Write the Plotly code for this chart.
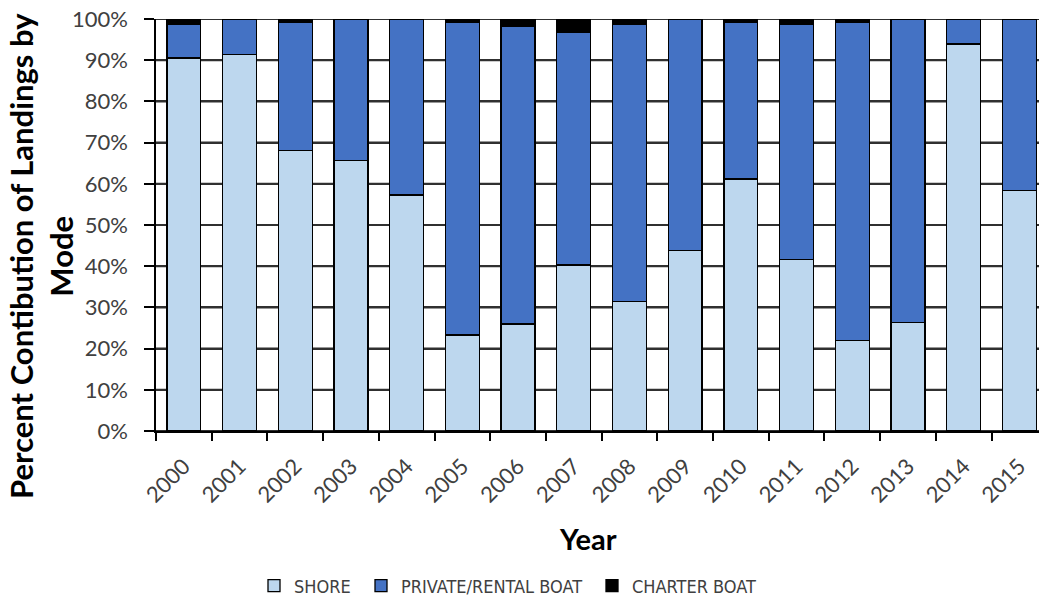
import plotly.graph_objects as go

years = [str(y) for y in range(2000, 2016)]
shore = [90.5, 91.4, 68.0, 65.6, 57.3, 23.3, 26.0, 40.3, 31.4, 43.8, 61.2, 41.7, 21.9, 26.4, 93.9, 58.3]
charter = [1.3, 0.0, 0.8, 0.0, 0.0, 0.8, 1.9, 3.3, 1.2, 0.0, 0.8, 1.3, 0.8, 0.0, 0.0, 0.0]
private = [round(100 - s - c, 1) for s, c in zip(shore, charter)]
y_ticks = [i / 10 for i in range(11)]

FONT = "Lato"
LEG_FONT = "DejaVu Sans Condensed, Liberation Sans, sans-serif"

# body margin is removed by the post script, so the figure fills the window
OFF = 0
W, H = 1039 - OFF, 599 - OFF
PL, PT, PB, PR = 156, 19, 431, 1039          # plot area in page pixels
L, T, B, R = PL - OFF, PT - OFF, H - (PB - OFF), 0
pw = PR - PL
ph = PB - PT
cat_px = 55.7
x_end = -0.5 + pw / cat_px

def px_x(x):
    return (x - PL) / pw

def px_y(y):
    return (PB - y) / ph

fig = go.Figure()

# horizontal gridlines (behind bars) at every y tick
for t in y_ticks:
    fig.add_shape(type="line", xref="x", yref="y", x0=-0.5, x1=len(years) - 0.5, y0=t, y1=t,
                  line=dict(color="#303030", width=2), layer="below")

series = [
    ("SHORE", shore, "#BDD7EE", "legend"),
    ("PRIVATE/RENTAL BOAT", private, "#4472C4", "legend2"),
    ("CHARTER BOAT", charter, "#000000", "legend3"),
]
for name, vals, col, lg in series:
    fig.add_trace(go.Bar(
        x=years, y=[v / 100 for v in vals], name=name,
        marker=dict(color=col, line=dict(color="#000000", width=1.3)),
        legend=lg,
    ))

legend_common = dict(orientation="h", yanchor="middle", xanchor="left",
                     font=dict(family=LEG_FONT, size=18, color="#404040"),
                     bgcolor="rgba(0,0,0,0)", itemwidth=30, itemclick=False,
                     xref="paper", yref="paper", tracegroupgap=0)
ly = px_y(586)
fig.update_layout(
    template="none",
    width=W, height=H,
    margin=dict(l=L, r=R, t=T, b=B, pad=0, autoexpand=False),
    paper_bgcolor="white", plot_bgcolor="white",
    barmode="stack", bargap=0.39,
    showlegend=True,
    legend=dict(x=px_x(254), y=ly, **legend_common),
    legend2=dict(x=px_x(361), y=ly, **legend_common),
    legend3=dict(x=px_x(592), y=ly, **legend_common),
    font=dict(family=FONT, color="#404040"),
    xaxis=dict(
        type="category", range=[-0.5, x_end],
        tickson="boundaries", ticks="outside", ticklen=8, tickwidth=1.5, tickcolor="#000",
        showline=True, linecolor="#000", linewidth=1.5,
        showgrid=False, tickangle=-45, zeroline=False, ticklabelstandoff=12,
        tickfont=dict(family=FONT, size=22, color="#404040"),
        ticklabeloverflow="allow",
    ),
    yaxis=dict(
        range=[0, 1], tickvals=y_ticks, tickformat=".0%",
        ticks="outside", ticklen=10, tickwidth=1.5, tickcolor="#000",
        showline=True, linecolor="#000", linewidth=1.5,
        showgrid=True, gridcolor="#303030", gridwidth=2,
        tickfont=dict(family=FONT, size=22, color="#404040"),
        zeroline=False, ticklabelstandoff=12, ticklabeloverflow="allow",
    ),
    annotations=[
        dict(text="<b>Percent Contibution of Landings by<br>Mode</b>",
             textangle=-90, x=px_x(41), y=px_y(256), xref="paper", yref="paper",
             xanchor="center", yanchor="middle", showarrow=False,
             font=dict(family=FONT, size=31, color="#000")),
        dict(text="<b>Year</b>", x=px_x(588), y=px_y(538), xref="paper", yref="paper",
             xanchor="center", yanchor="middle", showarrow=False,
             font=dict(family=FONT, size=29, color="#000")),
    ],
)

fig.write_html("out.html",
               config={"displayModeBar": False},
               post_script="document.body.style.margin='0';document.body.style.overflow='hidden';")
